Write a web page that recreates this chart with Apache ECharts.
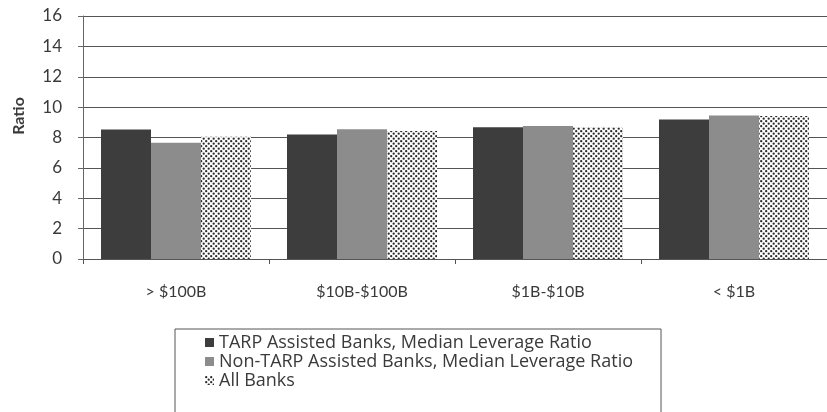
<!DOCTYPE html>
<html>
<head>
<meta charset="utf-8">
<script src="https://cdn.jsdelivr.net/npm/echarts@6/dist/echarts.min.js"></script>
<style>
  html, body { margin: 0; padding: 0; background: #fff; }
  #chart { width: 827px; height: 412px; }
</style>
</head>
<body>
<div id="chart"></div>
<script>
// data
const categories = ['> $100B', '$10B-$100B', '$1B-$10B', '< $1B'];
const tarpValues = [8.53, 8.2, 8.68, 9.19];
const nonTarpValues = [7.65, 8.55, 8.75, 9.45];
const allBanksValues = [8.05, 8.42, 8.68, 9.41];
const seriesNames = [
  'TARP Assisted Banks, Median Leverage Ratio',
  'Non-TARP Assisted Banks, Median Leverage Ratio',
  'All Banks'
];

// dotted fill for "All Banks"
function dotPattern() {
  const c = document.createElement('canvas');
  c.width = 5; c.height = 5;
  const ctx = c.getContext('2d');
  ctx.fillStyle = '#fff';
  ctx.fillRect(0, 0, 5, 5);
  ctx.fillStyle = '#2a2a2a';
  ctx.beginPath(); ctx.arc(1.2, 1.2, 1.15, 0, Math.PI * 2); ctx.fill();
  ctx.beginPath(); ctx.arc(3.7, 3.7, 1.15, 0, Math.PI * 2); ctx.fill();
  return c;
}

const font = 'Lato, "Open Sans", sans-serif';
const txt = '#3a3a3a';

const chart = echarts.init(document.getElementById('chart'), null, { renderer: 'canvas' });
chart.setOption({
  animation: false,
  backgroundColor: '#fff',
  textStyle: { fontFamily: font },
  grid: { left: 83, top: 16, right: -12, bottom: 153 },
  legend: {
    orient: 'vertical',
    left: 175,
    top: 329,
    height: 140,
    icon: 'rect',
    itemWidth: 9,
    itemHeight: 9,
    itemGap: 0,
    padding: [4, 28, 40, 30],
    borderColor: '#555',
    borderWidth: 1,
    textStyle: { fontFamily: '"Open Sans", sans-serif', fontSize: 18, color: txt, lineHeight: 19 },
    data: seriesNames
  },
  graphic: [{
    type: 'text',
    x: 19, y: 116,
    rotation: Math.PI / 2,
    style: {
      text: 'Ratio',
      font: 'bold 16px ' + font,
      fill: txt,
      align: 'center',
      verticalAlign: 'middle'
    }
  }],
  xAxis: {
    type: 'category',
    data: categories,
    axisLine: { lineStyle: { color: '#555', width: 1 } },
    axisTick: { show: true, length: 5, lineStyle: { color: '#555' } },
    axisLabel: { color: txt, fontSize: 16, margin: 25, fontFamily: font }
  },
  yAxis: {
    type: 'value',
    min: 0, max: 16, interval: 2,
    axisLine: { show: true, lineStyle: { color: '#666', width: 1 } },
    axisTick: { show: true, length: 5, lineStyle: { color: '#666' } },
    axisLabel: { color: txt, fontSize: 17, margin: 21, fontFamily: font },
    splitLine: { lineStyle: { color: '#555', width: 1 } }
  },
  series: [
    { name: seriesNames[0], type: 'bar', data: tarpValues, barWidth: 50, barGap: '0%',
      itemStyle: { color: '#3d3d3d' } },
    { name: seriesNames[1], type: 'bar', data: nonTarpValues, barWidth: 50, barGap: '0%',
      itemStyle: { color: '#8c8c8c' } },
    { name: seriesNames[2], type: 'bar', data: allBanksValues, barWidth: 50, barGap: '0%',
      itemStyle: { color: { image: dotPattern(), repeat: 'repeat' } } }
  ]
});
</script>
</body>
</html>
